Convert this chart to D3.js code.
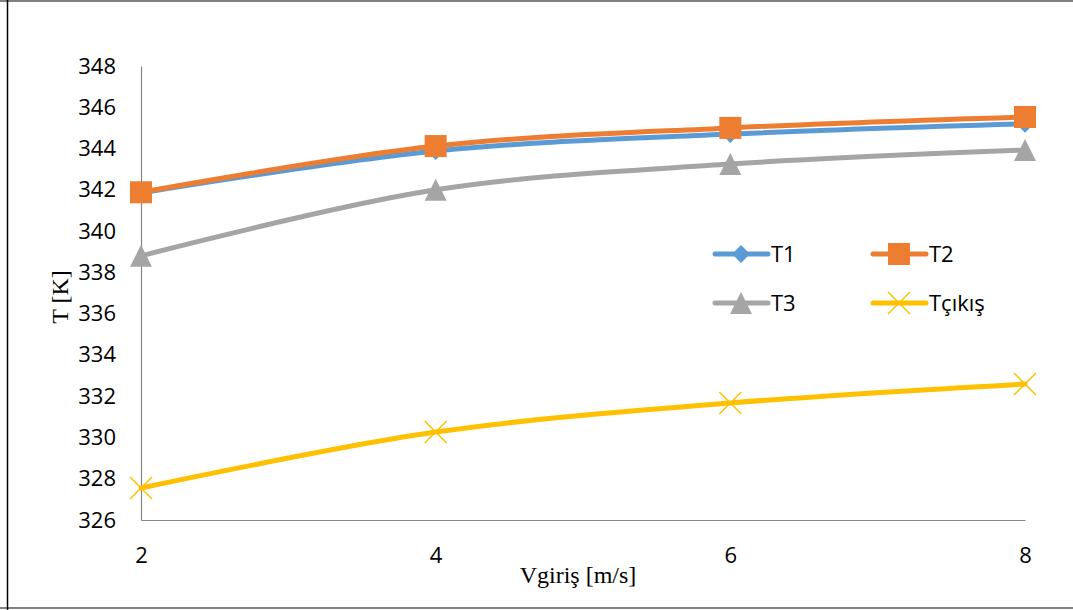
<!DOCTYPE html>
<html><head><meta charset="utf-8">
<script src="https://cdn.jsdelivr.net/npm/d3@7"></script>
<style>body{margin:0;background:#fff}svg{display:block}</style>
</head><body>
<svg id="c" width="1073" height="610"></svg>
<script>
const xValues = [2, 4, 6, 8];
const T1 = [341.85, 343.88, 344.7, 345.2];
const T2 = [341.88, 344.12, 345.0, 345.53];
const T3 = [338.8, 342.0, 343.25, 343.93];
const Tcikis = [327.55, 330.26, 331.67, 332.59];
const yTicks = [326, 328, 330, 332, 334, 336, 338, 340, 342, 344, 346, 348];
const xTicks = [2, 4, 6, 8];
const seriesNames = ["T1", "T2", "T3", "Tçıkış"];

const series = [
  {name: seriesNames[0], values: T1, color: "#5B9BD5", marker: "diamond"},
  {name: seriesNames[1], values: T2, color: "#ED7D31", marker: "square"},
  {name: seriesNames[2], values: T3, color: "#A5A5A5", marker: "triangle"},
  {name: seriesNames[3], values: Tcikis, color: "#FFC000", marker: "x"}
];

const svg = d3.select("#c");
// outer border
svg.append("line").attr("x1",0).attr("x2",1073).attr("y1",1).attr("y2",1).attr("stroke","#808080").attr("stroke-width",2);
svg.append("line").attr("x1",0).attr("x2",1073).attr("y1",608).attr("y2",608).attr("stroke","#808080").attr("stroke-width",2);
svg.append("line").attr("x1",7.5).attr("x2",7.5).attr("y1",0).attr("y2",610).attr("stroke","#000").attr("stroke-width",1.5);

const x = d3.scaleLinear().domain([2, 8]).range([141, 1025]);
const y = d3.scaleLinear().domain([326, 348]).range([520, 66]);

const tickFont = "Open Sans, Noto Sans, sans-serif";
// axes
const yAxis = d3.axisLeft(y).tickValues(yTicks).tickSize(0).tickPadding(25).tickFormat(d3.format("d"));
const gy = svg.append("g").attr("transform","translate(141,0)").call(yAxis);
gy.select(".domain").attr("stroke","#868686").attr("stroke-width",1.2);
gy.selectAll("text").attr("font-family",tickFont).attr("font-size",22).attr("fill","#000");

const xAxis = d3.axisBottom(x).tickValues(xTicks).tickSize(0).tickPadding(27).tickFormat(d3.format("d"));
const gx = svg.append("g").attr("transform","translate(0,520)").call(xAxis);
gx.select(".domain").attr("stroke","#868686").attr("stroke-width",1.2);
gx.selectAll("text").attr("font-family",tickFont).attr("font-size",22).attr("fill","#000");

// axis titles
svg.append("text").attr("x",578).attr("y",583).attr("text-anchor","middle")
  .attr("font-family","Liberation Serif, Times New Roman, serif").attr("font-size",24).text("Vgiriş [m/s]");
svg.append("text").attr("transform","translate(68,297) rotate(-90)").attr("text-anchor","middle")
  .attr("font-family","Liberation Serif, Times New Roman, serif").attr("font-size",24).text("T [K]");

const line = d3.line().x(d => x(d[0])).y(d => y(d[1])).curve(d3.curveCatmullRom.alpha(0.5));

function drawMarker(g, type, cx, cy, color) {
  if (type === "diamond") {
    g.append("path").attr("d", `M${cx},${cy-9}L${cx+9},${cy}L${cx},${cy+9}L${cx-9},${cy}Z`).attr("fill", color);
  } else if (type === "square") {
    g.append("rect").attr("x",cx-11).attr("y",cy-11).attr("width",22).attr("height",22).attr("fill",color);
  } else if (type === "triangle") {
    g.append("path").attr("d", `M${cx},${cy-11}L${cx+11},${cy+11}L${cx-11},${cy+11}Z`).attr("fill", color);
  } else if (type === "x") {
    g.append("path").attr("d", `M${cx-11},${cy-11}L${cx+11},${cy+11}M${cx-11},${cy+11}L${cx+11},${cy-11}`)
      .attr("stroke", color).attr("stroke-width",1.5).attr("fill","none");
  }
}

series.forEach(s => {
  const pts = xValues.map((v,i) => [v, s.values[i]]);
  svg.append("path").attr("d", line(pts)).attr("fill","none").attr("stroke", s.color)
    .attr("stroke-width",5).attr("stroke-linecap","round");
});
series.forEach(s => {
  const g = svg.append("g");
  xValues.forEach((v,i) => drawMarker(g, s.marker, x(v), y(s.values[i]), s.color));
});

// legend
const legendPos = [[713,254],[871,254],[713,303],[871,303]];
series.forEach((s,i) => {
  const [lx, ly] = legendPos[i];
  const g = svg.append("g");
  g.append("line").attr("x1",lx+2).attr("x2",lx+55).attr("y1",ly).attr("y2",ly)
    .attr("stroke",s.color).attr("stroke-width",5).attr("stroke-linecap","round");
  drawMarker(g, s.marker, lx+28, ly, s.color);
  g.append("text").attr("x",lx+58).attr("y",ly+8).attr("font-family",tickFont)
    .attr("font-size",22).attr("fill","#000").text(s.name);
});
</script>
</body></html>
